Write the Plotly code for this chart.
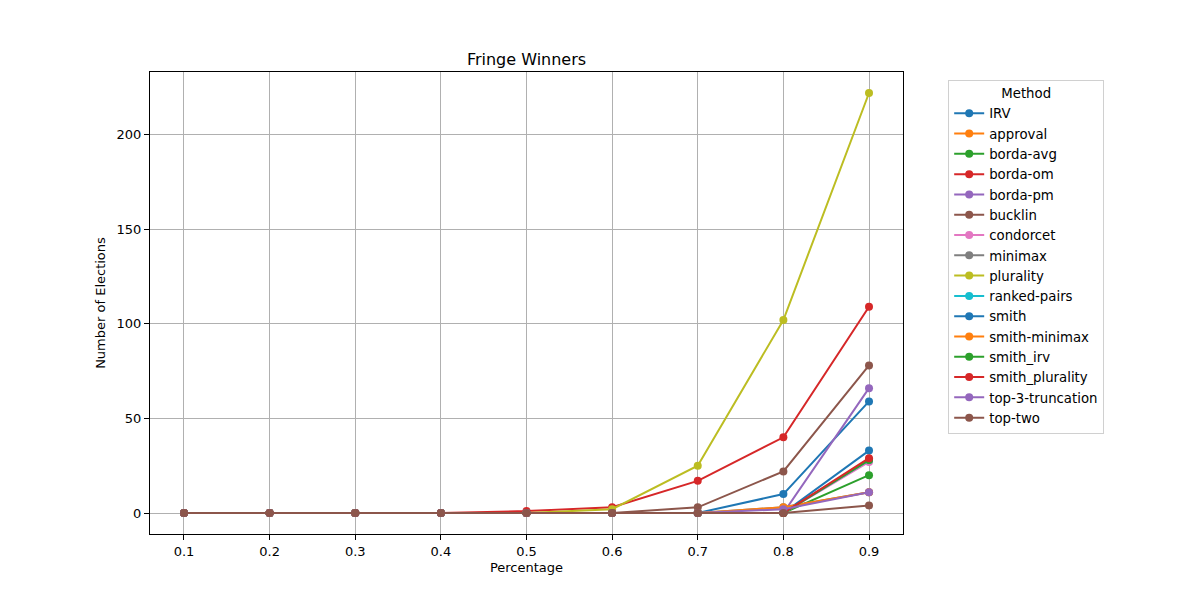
import plotly.graph_objects as go

percentages = [0.1, 0.2, 0.3, 0.4, 0.5, 0.6, 0.7, 0.8, 0.9]
methods = ["IRV", "approval", "borda-avg", "borda-om", "borda-pm", "bucklin",
           "condorcet", "minimax", "plurality", "ranked-pairs", "smith",
           "smith-minimax", "smith_irv", "smith_plurality", "top-3-truncation", "top-two"]
irv = [0, 0, 0, 0, 0, 0, 0, 10, 59]
approval = [0, 0, 0, 0, 0, 0, 0, 0, 28]
borda_avg = [0, 0, 0, 0, 0, 0, 0, 0, 20]
borda_om = [0, 0, 0, 0, 1, 3, 17, 40, 109]
borda_pm = [0, 0, 0, 0, 0, 0, 0, 0, 66]
bucklin = [0, 0, 0, 0, 0, 0, 3, 22, 78]
condorcet = [0, 0, 0, 0, 0, 0, 0, 0, 27]
minimax = [0, 0, 0, 0, 0, 0, 0, 3, 11]
plurality = [0, 0, 0, 0, 0, 2, 25, 102, 222]
ranked_pairs = [0, 0, 0, 0, 0, 0, 0, 0, 28]
smith = [0, 0, 0, 0, 0, 0, 0, 0, 33]
smith_minimax = [0, 0, 0, 0, 0, 0, 0, 3, 11]
smith_irv = [0, 0, 0, 0, 0, 0, 0, 0, 28]
smith_plurality = [0, 0, 0, 0, 0, 0, 0, 0, 29]
top3 = [0, 0, 0, 0, 0, 0, 0, 2, 11]
top_two = [0, 0, 0, 0, 0, 0, 0, 0, 4]

series = [irv, approval, borda_avg, borda_om, borda_pm, bucklin, condorcet, minimax,
          plurality, ranked_pairs, smith, smith_minimax, smith_irv, smith_plurality,
          top3, top_two]
colors = ["#1f77b4", "#ff7f0e", "#2ca02c", "#d62728", "#9467bd", "#8c564b",
          "#e377c2", "#7f7f7f", "#bcbd22", "#17becf"]

fig = go.Figure()
for i, (name, vals) in enumerate(zip(methods, series)):
    c = colors[i % 10]
    fig.add_trace(go.Scatter(x=percentages, y=vals, name=name, mode="lines+markers",
                             line=dict(color=c, width=2),
                             marker=dict(color=c, size=8)))

font = "DejaVu Sans, sans-serif"
fig.update_layout(
    width=1200, height=600,
    paper_bgcolor="white", plot_bgcolor="white",
    margin=dict(l=142, r=305, t=64, b=74),
    font=dict(family=font, size=13, color="black"),
    title=dict(text="Fringe Winners", x=(142 + 895) / 2 / 1200, xanchor="center",
               y=1 - 51 / 600, yanchor="middle", font=dict(size=16)),
    showlegend=True,
    legend=dict(x=1.06, xanchor="left", y=0.983, yanchor="top",
                bordercolor="#d0d0d0", borderwidth=1, bgcolor="white",
                font=dict(size=13.3), tracegroupgap=0,
                title=dict(text="Method", side="top center", font=dict(size=13.3))),
    xaxis=dict(range=[0.0603, 0.9397], tickvals=percentages,
               ticktext=[str(p) for p in percentages],
               showgrid=True, gridcolor="#b0b0b0", gridwidth=1,
               showline=True, linecolor="black", linewidth=1, mirror=True,
               ticks="outside", ticklen=5, tickcolor="black", zeroline=False,
               title=dict(text="Percentage", font=dict(size=13), standoff=5)),
    yaxis=dict(range=[-11.1, 233.1], tickvals=[0, 50, 100, 150, 200],
               showgrid=True, gridcolor="#b0b0b0", gridwidth=1,
               showline=True, linecolor="black", linewidth=1, mirror=True,
               ticks="outside", ticklen=5, tickcolor="black", zeroline=False,
               title=dict(text="Number of Elections", font=dict(size=13), standoff=8)),
)
fig.write_html("out.html")
